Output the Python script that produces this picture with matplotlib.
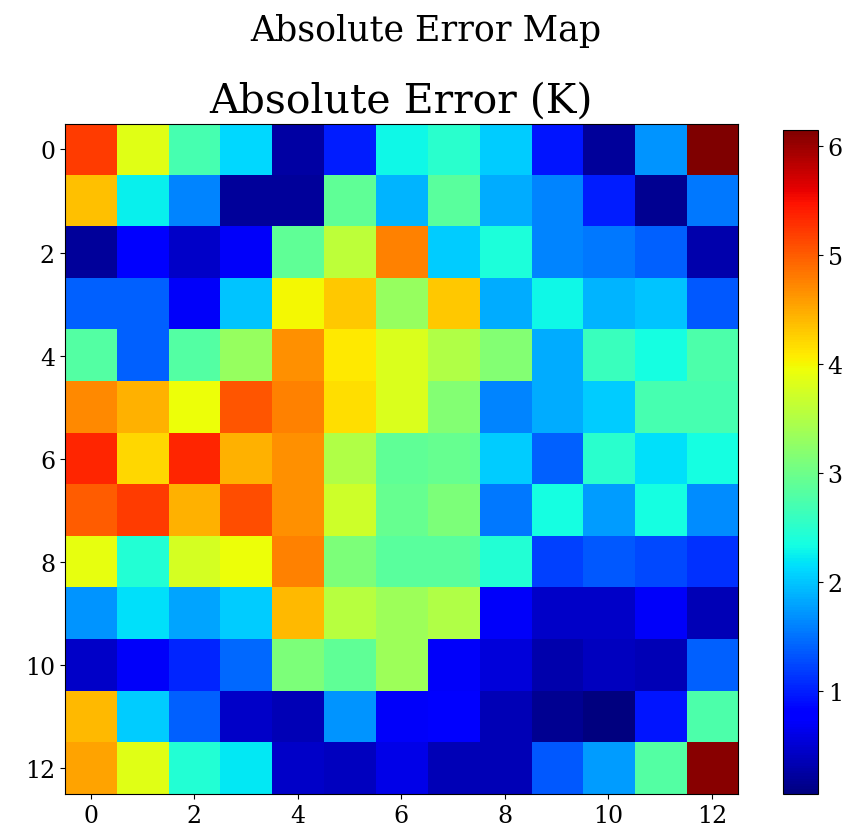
import numpy as np
import matplotlib
matplotlib.use('Agg')
import matplotlib.pyplot as plt

plt.rcParams['font.family'] = 'DejaVu Serif'

# absolute error values (K)
row_00 = [5.20, 3.85, 2.70, 2.10, 0.25, 1.00, 2.30, 2.50, 2.05, 0.95, 0.20, 1.70, 6.15]
row_01 = [4.35, 2.25, 1.60, 0.20, 0.20, 2.90, 1.90, 2.85, 1.85, 1.60, 1.00, 0.15, 1.55]
row_02 = [0.20, 0.75, 0.45, 0.70, 2.90, 3.60, 4.75, 2.05, 2.40, 1.60, 1.55, 1.40, 0.30]
row_03 = [1.40, 1.40, 0.70, 2.00, 4.00, 4.30, 3.30, 4.30, 1.85, 2.30, 1.90, 2.00, 1.35]
row_04 = [2.80, 1.40, 2.80, 3.30, 4.65, 4.10, 3.80, 3.50, 3.15, 1.85, 2.60, 2.35, 2.75]
row_05 = [4.70, 4.45, 3.95, 5.05, 4.75, 4.15, 3.80, 3.15, 1.60, 1.85, 2.05, 2.70, 2.70]
row_06 = [5.35, 4.20, 5.35, 4.45, 4.65, 3.50, 2.90, 2.95, 2.05, 1.40, 2.50, 2.15, 2.35]
row_07 = [5.00, 5.20, 4.45, 5.10, 4.65, 3.70, 2.95, 3.10, 1.55, 2.35, 1.75, 2.35, 1.65]
row_08 = [3.90, 2.45, 3.75, 3.95, 4.75, 3.10, 2.85, 2.85, 2.45, 1.20, 1.35, 1.25, 1.10]
row_09 = [1.70, 2.15, 1.80, 2.05, 4.40, 3.55, 3.35, 3.50, 0.70, 0.45, 0.45, 0.70, 0.35]
row_10 = [0.45, 0.70, 1.05, 1.45, 3.10, 2.90, 3.35, 0.70, 0.55, 0.30, 0.40, 0.35, 1.40]
row_11 = [4.40, 2.05, 1.40, 0.45, 0.35, 1.70, 0.70, 0.75, 0.35, 0.15, 0.05, 0.95, 2.75]
row_12 = [4.55, 3.85, 2.45, 2.20, 0.45, 0.40, 0.60, 0.35, 0.35, 1.35, 1.75, 2.80, 6.10]

aError = np.array([row_00, row_01, row_02, row_03, row_04, row_05, row_06,
                   row_07, row_08, row_09, row_10, row_11, row_12])

fig = plt.figure(figsize=(8.52, 8.37), dpi=100)
ax = fig.add_axes([0.076, 0.050, 0.790, 0.801])
cax = fig.add_axes([0.919, 0.050, 0.041, 0.794])

im = ax.imshow(aError, cmap='jet', aspect='auto', interpolation='nearest')
ax.set_title('Absolute Error (K)', fontsize=29.5, pad=9)
ax.tick_params(labelsize=17)

cb = fig.colorbar(im, cax=cax)
cb.ax.tick_params(labelsize=17)

fig.suptitle('Absolute Error Map', fontsize=25, y=0.983)

fig.savefig('out.png', dpi=100)
